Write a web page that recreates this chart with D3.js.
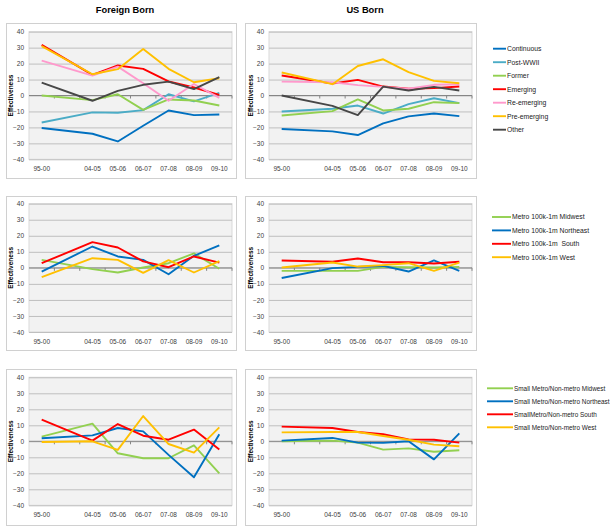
<!DOCTYPE html>
<html>
<head>
<meta charset="utf-8">
<script src="https://cdn.jsdelivr.net/npm/d3@7"></script>
<style>
  body { margin: 0; background: #fff; }
  svg text { font-family: "Liberation Sans", Arial, sans-serif; white-space: pre; }
</style>
</head>
<body>
<div id="chart"></div>
<script>
// categories ("" is the empty slot between 95-00 and 04-05)
var categories = ["95-00", "", "04-05", "05-06", "06-07", "07-08", "08-09", "09-10"];
var yTicks = [40, 30, 20, 10, 0, -10, -20, -30, -40];
var columnTitles = ["Foreign Born", "US Born"];

// row 1 - lineage groups
var lineageNames = ["Continuous", "Post-WWII", "Former", "Emerging", "Re-emerging", "Pre-emerging", "Other"];
var lineageColors = ["#0070C0", "#4BACC6", "#92D050", "#FF0000", "#FF99CC", "#FFC000", "#474747"];
var foreignLineage = [
  [-20.4, null, -24, -28.8, -19, -9.4, -12.3, -11.9],
  [-16.9, null, -10.6, -10.8, -9.2, 0.8, -3.7, 1.7],
  [0, null, -2.9, 0.8, -9, -2.5, -3.1, -6.3],
  [31.7, null, 12.9, 18.8, 16.7, 8.8, 5, 0.4],
  [21.9, null, 12.5, 18.1, 7.7, -3.3, 7.2, -1.5],
  [31, null, 13.3, 16.5, 29.2, 16.7, 8.3, 10.8],
  [8.1, null, -3.3, 2.9, 6.7, 8.7, 4, 11.5]
];
var usLineage = [
  [-21, null, -22.5, -24.8, -17.5, -13.1, -11.3, -12.9],
  [-10, null, -8.3, -6.3, -11.3, -5.4, -1.7, -4.8],
  [-12.5, null, -9.8, -2.5, -9.4, -8.3, -4.2, -4.8],
  [12.5, null, 7.5, 9.8, 5.6, 4.2, 4.6, 5.6],
  [8.7, null, 8.3, 6.5, 5.4, 4.2, 6.7, 7.1],
  [14.4, null, 7.1, 18.5, 22.7, 14.6, 9.2, 7.7],
  [0, null, -6.5, -12.3, 5.6, 3.1, 5.4, 3.1]
];

// row 2 - metro 100k-1m by region
var metroNames = ["Metro 100k-1m Midwest", "Metro 100k-1m Northeast", "Metro 100k-1m  South", "Metro 100k-1m West"];
var regionColors = ["#92D050", "#0070C0", "#FF0000", "#FFC000"];
var foreignMetro = [
  [5, null, -0.8, -2.9, 0.2, 2.9, 9, -0.6],
  [-2.3, null, 13.3, 7.1, 5, -4, 7.5, 14],
  [2.9, null, 16, 12.7, 4, 0.4, 7.1, 3.3],
  [-5.8, null, 6, 5, -3.1, 4.8, -2.9, 4.2]
];
var usMetro = [
  [-1.9, null, -1.9, -1.9, 0.6, 0.4, 0.2, 0.6],
  [-6.3, null, -0.2, 0.6, 1.2, -2.3, 4.6, -1.9],
  [4.6, null, 3.8, 5.8, 3.5, 3.5, 2.7, 3.8],
  [0.2, null, 3.3, 0.8, 1.7, 2.9, -1.9, 3.3]
];

// row 3 - small metro / non-metro by region
var smallNames = ["Small Metro/Non-metro Midwest", "Small Metro/Non-metro Northeast", "SmallMetro/Non-metro South", "Small Metro/Non-metro West"];
var foreignSmall = [
  [2.9, null, 11, -7.5, -10.6, -10.6, -2.5, -20],
  [1.9, null, 3.7, 8.3, 6.2, -8.5, -22.5, 4.4],
  [13.5, null, 0.4, 10.8, 3.5, 1, 7.3, -5.2],
  [-0.4, null, 0, -5.4, 15.8, -1.7, -7.1, 8.7]
];
var usSmall = [
  [0, null, 0.4, -0.8, -5.2, -4.4, -6.5, -5.6],
  [0.4, null, 2.1, -0.8, -1, 0, -11.3, 5],
  [9.2, null, 8.3, 5.8, 4.4, 1.2, 1, -0.8],
  [5.6, null, 5.8, 5.8, 3.3, 1, -2.1, -3.1]
];

var width = 615, height = 529;
var svg = d3.select("#chart").append("svg").attr("width", width).attr("height", height);

// layout
var cols = [
  { frame: [6, 236], plot: [29, 232], titleX: 125 },
  { frame: [245, 476], plot: [269, 472], titleX: 365 }
];
var rows = [
  { frame: [23, 178], plot: [31.7, 159.3], legendY: 48.7, legendLine: [493, 506], legendStep: 13.5, legendFont: 6.8,
    names: lineageNames, colors: lineageColors, data: [foreignLineage, usLineage] },
  { frame: [196, 350], plot: [203.7, 332], legendY: 217, legendLine: [492, 511], legendStep: 13.4, legendFont: 6.8,
    names: metroNames, colors: regionColors, data: [foreignMetro, usMetro] },
  { frame: [369, 525], plot: [377.3, 505.3], legendY: 388.3, legendLine: [487, 513], legendStep: 13, legendFont: 6.4,
    names: smallNames, colors: regionColors, data: [foreignSmall, usSmall] }
];

// column titles
cols.forEach(function(c, i) {
  svg.append("text")
    .attr("x", c.titleX).attr("y", 12.5)
    .attr("text-anchor", "middle")
    .attr("font-size", "9.3px").attr("font-weight", "bold")
    .attr("fill", "#000")
    .text(columnTitles[i]);
});

rows.forEach(function(r) {
  cols.forEach(function(c, ci) {
    var g = svg.append("g");

    // chart frame
    g.append("rect")
      .attr("x", c.frame[0] + 0.5).attr("y", r.frame[0] + 0.5)
      .attr("width", c.frame[1] - c.frame[0]).attr("height", r.frame[1] - r.frame[0])
      .attr("fill", "#fff").attr("stroke", "#D0D0D0");

    var x = d3.scaleBand().domain(categories).range(c.plot);
    var y = d3.scaleLinear().domain([-40, 40]).range([r.plot[1], r.plot[0]]);

    // plot area
    g.append("rect")
      .attr("x", c.plot[0]).attr("y", r.plot[0])
      .attr("width", c.plot[1] - c.plot[0]).attr("height", r.plot[1] - r.plot[0])
      .attr("fill", "#F2F2F2").attr("stroke", "#D9D9D9");

    // gridlines + y labels
    var yAxis = g.append("g")
      .attr("transform", "translate(" + c.plot[0] + ",0)")
      .call(d3.axisLeft(y).tickValues(yTicks).tickSize(-(c.plot[1] - c.plot[0])).tickPadding(5));
    yAxis.select(".domain").remove();
    yAxis.selectAll(".tick line").attr("stroke", "#BFBFBF");
    yAxis.selectAll(".tick text").attr("font-size", "6.5px").attr("fill", "#404040")
      .attr("font-family", "Liberation Sans, Arial, sans-serif");

    // zero axis with ticks at band edges
    var edges = categories.map(function(d) { return x(d); }).concat([c.plot[1]]);
    g.append("line")
      .attr("x1", c.plot[0]).attr("x2", c.plot[1])
      .attr("y1", y(0)).attr("y2", y(0))
      .attr("stroke", "#868686").attr("stroke-width", 1);
    g.selectAll(".xt").data(edges.slice(1)).enter().append("line")
      .attr("x1", function(d) { return d; }).attr("x2", function(d) { return d; })
      .attr("y1", y(0)).attr("y2", y(0) + 3)
      .attr("stroke", "#868686");

    // x labels
    g.selectAll(".xl").data(categories).enter().append("text")
      .attr("x", function(d) { return x(d) + x.bandwidth() / 2; })
      .attr("y", r.plot[1] + 11.5)
      .attr("text-anchor", "middle")
      .attr("font-size", "6.5px").attr("fill", "#404040")
      .text(function(d) { return d; });

    // y title
    g.append("text")
      .attr("transform", "translate(" + (c.plot[0] - 16) + "," + y(0) + ") rotate(-90)")
      .attr("text-anchor", "middle")
      .attr("font-size", "6.5px").attr("font-weight", "bold")
      .text("Effectiveness");

    // series
    var line = d3.line()
      .x(function(d) { return x(d.cat) + x.bandwidth() / 2; })
      .y(function(d) { return y(d.v); });
    r.data[ci].forEach(function(vals, si) {
      var pts = vals.map(function(v, k) { return { cat: categories[k], v: v }; })
        .filter(function(d) { return d.v !== null; });
      g.append("path")
        .attr("d", line(pts))
        .attr("fill", "none")
        .attr("stroke", r.colors[si])
        .attr("stroke-width", 1.9)
        .attr("stroke-linejoin", "round");
    });
  });

  // legend
  var lg = svg.append("g");
  r.names.forEach(function(n, i) {
    var ly = r.legendY + i * r.legendStep;
    lg.append("line")
      .attr("x1", r.legendLine[0]).attr("x2", r.legendLine[1])
      .attr("y1", ly).attr("y2", ly)
      .attr("stroke", r.colors[i]).attr("stroke-width", 1.9);
    lg.append("text")
      .attr("x", r.legendLine[1] + 1).attr("y", ly + 2.3)
      .attr("font-size", r.legendFont + "px").attr("fill", "#222")
      .text(n);
  });
});
</script>
</body>
</html>
